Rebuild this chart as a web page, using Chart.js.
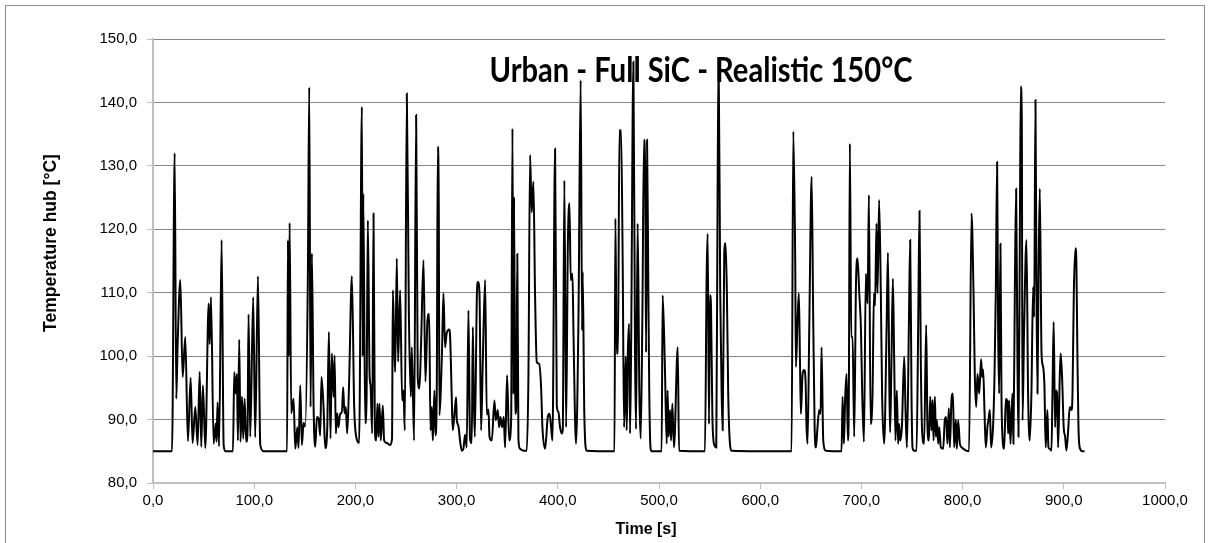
<!DOCTYPE html>
<html>
<head>
<meta charset="utf-8">
<title>Urban - Full SiC - Realistic 150°C</title>
<script src="https://cdn.jsdelivr.net/npm/chart.js@4/dist/chart.umd.min.js"></script>
<style>
  html, body { margin: 0; padding: 0; background: #ffffff; }
  #wrap { position: relative; width: 1211px; height: 543px; }
</style>
</head>
<body>
<div id="wrap"><canvas id="chart" width="1211" height="543"></canvas></div>
<script>
// Hub temperature over the urban drive cycle (time in seconds, temperature in °C)
const timeSec = [
  0, 18.8, 21.4, 23.0, 24.3, 27.0, 29.3, 31.9, 34.5, 37.2, 39.1, 41.8, 44.1, 46.1, 47.7, 49.3, 51.7, 55.0, 56.0, 57.3,
  59.9, 61.9, 62.8, 63.8, 65.3, 67.8, 69.8, 71.5, 79.0, 80.3, 81.6, 82.9, 83.9, 85.2, 86.5, 87.9, 89.2, 90.5, 92.1, 93.4,
  94.4, 96.1, 99.0, 101.0, 103.7, 106.0, 109.2, 132.5, 133.3, 134.1, 135.0, 136.6, 138.9, 140.6, 142.6, 143.8, 145.5, 147.1, 148.8, 150.4,
  153.0, 154.4, 155.7, 157.0, 158.7, 160.3, 162.0, 163.6, 165.2, 166.5, 168.5, 170.2, 172.2, 173.8, 175.4, 176.7, 178.4, 179.4, 180.7, 182.0,
  183.3, 185.0, 186.6, 187.9, 189.2, 190.5, 191.9, 193.8, 196.5, 198.8, 200.8, 203.7, 206.4, 207.2, 207.8, 209.7, 211.0, 212.3, 214.0, 215.0,
  216.6, 217.9, 219.2, 220.5, 221.8, 222.8, 223.8, 225.1, 227.1, 228.4, 231.0, 234.3, 236.2, 237.0, 238.3, 239.3, 240.9, 242.2, 244.2, 246.2,
  247.5, 248.8, 250.8, 252.8, 254.8, 255.7, 258.0, 260.0, 261.6, 263.3, 264.9, 267.3, 269.2, 271.2, 272.9, 274.2, 275.5, 276.5, 278.1, 279.1,
  280.4, 281.4, 282.4, 283.0, 284.3, 285.6, 287.0, 288.6, 290.2, 292.6, 293.6, 295.2, 296.2, 298.5, 299.5, 300.2, 301.8, 303.4, 305.1, 306.7,
  308.4, 310.0, 311.7, 313.3, 315.0, 316.0, 317.0, 318.0, 320.0, 321.0, 322.6, 324.2, 325.9, 328.2, 329.8, 331.5, 332.5, 334.8, 337.4, 338.7,
  340.7, 342.0, 343.3, 345.0, 346.6, 347.9, 349.9, 351.9, 353.9, 355.2, 356.2, 356.8, 357.8, 358.8, 360.0, 361.1, 362.7, 366.0, 369.3, 371.0,
  372.6, 374.2, 375.9, 377.5, 379.2, 381.5, 383.5, 384.8, 387.5, 390.1, 391.8, 393.4, 394.7, 397.3, 399.0, 400.6, 402.2, 403.9, 404.9, 406.5,
  408.2, 409.9, 411.5, 412.8, 414.5, 415.5, 418.0, 420.4, 422.6, 424.0, 424.6, 426.2, 428.5, 456.0, 456.9, 458.2, 459.5, 460.9, 462.5, 464.1,
  465.5, 467.1, 468.1, 469.1, 470.4, 471.4, 472.4, 474.7, 476.3, 477.3, 478.9, 480.6, 481.9, 483.5, 485.2, 486.5, 487.2, 488.2, 489.5, 490.4,
  491.7, 493.0, 502.6, 503.6, 505.9, 507.6, 508.5, 509.5, 510.9, 511.9, 513.2, 514.8, 518.5, 519.8, 545.4, 547.1, 548.1, 549.4, 550.4, 551.4,
  552.7, 554.3, 556.6, 557.9, 558.9, 560.5, 561.9, 562.9, 564.5, 565.8, 567.1, 568.4, 570.1, 571.7, 631.0, 632.7, 634.6, 635.3, 636.9, 638.2,
  639.3, 640.2, 641.9, 643.5, 644.8, 645.8, 646.8, 648.5, 650.8, 652.4, 653.8, 655.1, 656.4, 658.3, 659.7, 660.6, 662.3, 664.9, 680.4, 681.4,
  682.7, 684.0, 685.3, 686.7, 687.6, 688.6, 690.0, 691.3, 692.9, 694.6, 696.2, 697.9, 699.5, 700.8, 702.5, 704.4, 706.1, 707.4, 709.1, 711.0,
  712.4, 713.5, 714.9, 715.9, 717.5, 719.2, 720.5, 722.5, 724.9, 726.2, 727.7, 728.4, 729.7, 731.1, 732.4, 733.7, 735.0, 736.3, 737.3, 738.3,
  740.0, 742.3, 743.6, 745.0, 746.9, 748.2, 749.5, 750.5, 752.1, 754.5, 756.1, 757.4, 758.7, 760.1, 762.0, 764.0, 765.3, 766.7, 768.0, 769.3,
  770.3, 771.3, 772.6, 773.6, 774.6, 775.9, 776.9, 778.5, 780.8, 782.4, 783.7, 785.0, 786.4, 787.4, 789.0, 790.4, 791.7, 793.3, 794.3, 795.6,
  797.3, 799.2, 806.4, 808.8, 810.8, 812.1, 813.4, 814.7, 816.4, 818.3, 819.3, 820.3, 821.6, 822.9, 824.5, 825.8, 826.9, 828.2, 830.2, 831.5,
  832.8, 834.1, 835.1, 836.1, 837.4, 838.4, 839.4, 841.1, 842.7, 844.0, 845.0, 845.9, 847.3, 848.3, 849.3, 850.2, 851.6, 852.9, 854.2, 855.2,
  856.5, 857.5, 858.5, 859.2, 860.8, 863.1, 864.7, 866.4, 868.0, 869.7, 870.7, 872.0, 873.0, 874.0, 875.0, 876.3, 878.0, 879.6, 880.9, 882.1,
  883.8, 884.8, 886.1, 887.8, 888.8, 890.0, 891.4, 892.3, 893.3, 894.4, 896.0, 896.9, 898.3, 899.9, 901.3, 902.6, 904.3, 905.9, 907.6, 908.6,
  909.9, 911.5, 912.5, 913.5, 914.5, 915.7, 918.5, 920.5
];

const hubTemp = [
  85, 85, 132, 93.3, 101.6, 112, 96.7, 103, 86.6, 96.6, 86.3, 92, 86, 97.5, 85.7, 95.4, 85.5, 108.3, 101.9, 109.3,
  86.2, 89.4, 86.5, 92.7, 85.8, 118.3, 86, 85, 85, 97.5, 94.1, 97.2, 86.7, 102.6, 86.5, 93.6, 87, 93.3, 86.5, 88,
  106.6, 87.3, 109.3, 87.2, 112.6, 86, 85, 85, 118.3, 100, 121, 91, 93.3, 85.4, 88.8, 85.5, 95.4, 86, 89.5, 88.9,
  112.2, 142.4, 92, 116.2, 92, 85.7, 90.4, 90.2, 87.5, 96.7, 92, 85.5, 88.8, 103.8, 87, 100.4, 93.6, 100.1, 87.8, 91,
  88.8, 91, 91, 95.1, 91, 92, 87.8, 96, 112.6, 92, 87.3, 86.3, 139.3, 100, 125.6, 89.4, 93, 121.4, 97.2, 95.3,
  87.8, 122.5, 88.8, 86.7, 92.5, 87.3, 92.5, 86.7, 92.2, 86.7, 86.3, 86, 87, 110.4, 102.3, 97.5, 115.4, 99.1, 110.4, 93,
  94.6, 88.3, 141.4, 107.2, 93.6, 101.4, 86.7, 138, 96.7, 94.9, 102, 115.1, 96, 105.6, 106.7, 88.3, 92, 86.7, 94.6, 87.5,
  94.6, 133, 123.3, 90.7, 94.1, 100.9, 109.9, 101.4, 103.6, 104.2, 103, 93.6, 88.3, 92, 93.5, 90, 89, 86.7, 85.1, 85.4,
  87.6, 85.6, 107.2, 86.9, 86.3, 104.6, 94, 87.3, 109.3, 111.7, 110, 88.3, 99.3, 112, 90.8, 91.6, 87.3, 86.7, 93, 89.9,
  91.5, 88.8, 90.4, 88.8, 90.4, 85.6, 97, 86.7, 89.9, 135.9, 94, 125.1, 90.9, 91.5, 116.1, 86.9, 85.4, 85.1, 85.1, 97.2,
  131.7, 122.7, 127.5, 110, 99.1, 98.8, 95.1, 88.8, 85.4, 90.4, 90.9, 88.8, 86.7, 132.7, 92.2, 91.2, 88.8, 87.8, 88.3, 127.7,
  88.8, 117.2, 124.1, 112, 113, 103.6, 86.2, 105.7, 143.5, 104.1, 113.3, 90.9, 85.1, 85, 121.7, 100.4, 100.4, 135.6, 135.6, 115.1,
  88.8, 99.9, 88.3, 99.9, 105.1, 87.8, 100.4, 146.4, 100.6, 88.5, 120.9, 94.1, 87, 105.1, 134.1, 125.6, 100.6, 134.1, 109.9, 94.1,
  85.4, 85, 85, 109.6, 97.8, 86.2, 94.6, 87.3, 91.5, 86.7, 92.5, 85.6, 101.4, 85.1, 85, 113, 119.3, 89.3, 109.6, 107.7,
  91, 86.2, 85.6, 125.6, 147, 109.9, 94.1, 88.3, 116.2, 117.8, 109.9, 94.1, 86.2, 85.1, 85, 135.4, 115.1, 98.3, 105.7, 109.9,
  99.3, 90.9, 97.2, 97.8, 96.2, 88.8, 86.2, 104.6, 128.3, 105.7, 88.8, 85.6, 88.3, 91.5, 90.9, 101.4, 86.7, 85.1, 85, 93.6,
  86.2, 93.6, 97.2, 86.7, 94.1, 133.5, 103, 103, 87.3, 111, 115.4, 109.9, 104.6, 94.1, 86.5, 113, 108.3, 125.4, 89.3, 94.1,
  109.9, 108, 120.9, 109.9, 124.6, 109.9, 93.6, 86.2, 104.6, 116.3, 94.1, 88, 99.3, 112.2, 99.3, 86.7, 94.6, 86.2, 89.3, 86.7,
  88.8, 99.9, 91.5, 85.6, 104.6, 118.3, 94.1, 85.6, 85.1, 85.1, 104.6, 122.9, 99.3, 87.8, 86.2, 104.9, 88.8, 86.7, 93.6, 88.3,
  93.1, 86.7, 93.6, 87.3, 89.9, 86.2, 88.8, 85.6, 85.4, 89.9, 90.4, 86.2, 91.8, 85.6, 93, 94.1, 85.6, 90, 85.4, 89.9,
  86.2, 85.6, 85, 122.5, 109.9, 96.7, 92, 97.2, 94.1, 99.5, 96.7, 97.9, 91.5, 85.6, 88.8, 90.2, 91.5, 85.6, 89.3, 96.7,
  110, 130.6, 104.6, 94.1, 117.7, 94.1, 87.3, 85.4, 93.3, 93, 87.8, 93, 86.2, 90.9, 94.1, 86.2, 109.9, 126.4, 99.3, 87.3,
  117, 142.5, 137.2, 89.9, 104.6, 118.3, 94.1, 86.7, 94.1, 110.9, 106.2, 140.4, 109.9, 94.1, 112.5, 126.4, 100.4, 98.3, 95.1, 85.6,
  91.5, 85.6, 85.4, 85.1, 94.1, 105.4, 88.8, 94.6, 94.1, 85.6, 96.7, 100.4, 96.7, 88.8, 87.3, 85.1, 88.3, 92, 91.5, 94.1,
  109.9, 117, 114.1, 99.3, 88.8, 85.6, 85, 85
];

// Axis ticks and labels
const xTickValues = [0, 100, 200, 300, 400, 500, 600, 700, 800, 900, 1000];
const xTickLabels = ['0,0', '100,0', '200,0', '300,0', '400,0', '500,0', '600,0', '700,0', '800,0', '900,0', '1000,0'];
const yTickValues = [80, 90, 100, 110, 120, 130, 140, 150];
const yTickLabels = ['80,0', '90,0', '100,0', '110,0', '120,0', '130,0', '140,0', '150,0'];

const chartTitle = 'Urban - Full SiC - Realistic 150°C';
const xAxisTitle = 'Time [s]';
const yAxisTitle = 'Temperature hub [°C]';

const points = timeSec.map((t, i) => ({ x: t, y: hubTemp[i] }));

const AXIS_FONT = "'Liberation Sans', Arial, sans-serif";
const TITLE_FONT = "Lato, 'Open Sans', sans-serif";

// Frame, chart title and axis titles
const decorations = {
  id: 'decorations',
  beforeDraw(chart) {
    const ctx = chart.ctx;
    ctx.save();
    ctx.fillStyle = '#ffffff';
    ctx.fillRect(0, 0, chart.width, chart.height);
    ctx.restore();
  },
  afterDraw(chart) {
    const ctx = chart.ctx;
    ctx.save();
    // outer frame
    ctx.strokeStyle = '#8c8c8c';
    ctx.lineWidth = 1;
    ctx.strokeRect(5.5, 5.5, 1199, 540);

    // axis titles
    ctx.fillStyle = '#000000';
    ctx.font = "bold 16px " + AXIS_FONT;
    ctx.textAlign = 'center';
    ctx.textBaseline = 'middle';
    ctx.fillText(xAxisTitle, 646, 530);

    ctx.save();
    ctx.translate(51, 243);
    ctx.rotate(-Math.PI / 2);
    ctx.font = "bold 17.5px " + AXIS_FONT;
    ctx.fillText(yAxisTitle, 0, 0);
    ctx.restore();

    // chart title, sized to span its box and stretched to the taller cap height
    const targetWidth = 423;
    ctx.font = "bold 100px " + TITLE_FONT;
    const w100 = ctx.measureText(chartTitle).width;
    const size = 100 * targetWidth / w100;
    ctx.font = "bold " + size.toFixed(2) + "px " + TITLE_FONT;
    ctx.textAlign = 'left';
    ctx.textBaseline = 'alphabetic';
    ctx.translate(489.5, 82);
    ctx.scale(1, 1.16);
    ctx.fillText(chartTitle, 0, 0);
    ctx.restore();
  }
};

new Chart(document.getElementById('chart'), {
  type: 'line',
  data: {
    datasets: [{
      data: points,
      borderColor: '#000000',
      borderWidth: 2,
      pointRadius: 0,
      pointHoverRadius: 0,
      fill: false,
      cubicInterpolationMode: 'monotone'
    }]
  },
  options: {
    responsive: false,
    animation: false,
    events: [],
    layout: { padding: { left: 0, right: 46, top: 39, bottom: 0 } },
    plugins: {
      legend: { display: false },
      tooltip: { enabled: false },
      title: { display: false }
    },
    scales: {
      x: {
        type: 'linear',
        min: 0,
        max: 1000,
        afterFit(scale) { scale.height = 60; },
        afterBuildTicks(scale) { scale.ticks = xTickValues.map(v => ({ value: v })); },
        ticks: {
          autoSkip: false,
          maxRotation: 0,
          padding: 3,
          color: '#000000',
          font: { family: AXIS_FONT, size: 15 },
          callback: (v, i) => xTickLabels[i]
        },
        grid: {
          drawOnChartArea: false,
          drawTicks: true,
          tickLength: 6,
          tickColor: '#bfbfbf',
          tickWidth: 1
        },
        border: { display: true, color: '#bfbfbf', width: 2 }
      },
      y: {
        type: 'linear',
        min: 80,
        max: 150,
        afterFit(scale) { scale.width = 153; },
        afterBuildTicks(scale) { scale.ticks = yTickValues.map(v => ({ value: v })); },
        ticks: {
          padding: 10,
          color: '#000000',
          font: { family: AXIS_FONT, size: 15 },
          callback: (v, i) => yTickLabels[i]
        },
        grid: {
          color: '#868686',
          lineWidth: 1,
          drawTicks: true,
          tickLength: 6,
          tickColor: '#bfbfbf',
          tickWidth: 1
        },
        border: { display: true, color: '#bfbfbf', width: 2 }
      }
    }
  },
  plugins: [decorations]
});
</script>
</body>
</html>
